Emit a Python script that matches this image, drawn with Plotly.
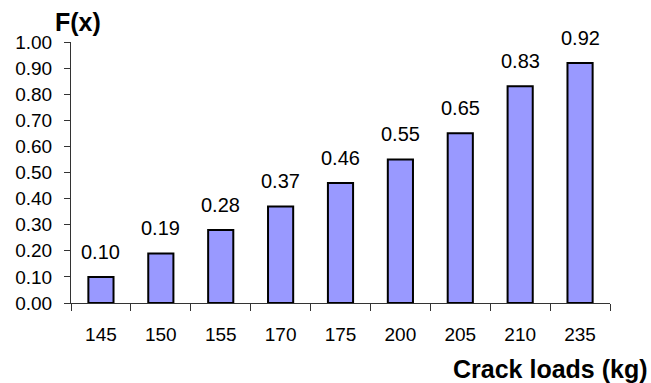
import plotly.graph_objects as go

# Crack load categories and the cumulative distribution F(x)
loads = ["145", "150", "155", "170", "175", "200", "205", "210", "235"]
fx = [0.10, 0.19, 0.28, 0.37, 0.46, 0.55, 0.65, 0.83, 0.92]
y_ticks = [i / 10 for i in range(11)]

FONT = "Liberation Sans, Arial, sans-serif"
TICK_SIZE = 19
LABEL_SIZE = 20
TITLE_SIZE = 25

fig = go.Figure()
fig.add_trace(go.Bar(
    x=loads,
    y=fx,
    marker=dict(color="#9999FF", line=dict(color="black", width=2)),
    width=0.42,
    hoverinfo="x+y",
))

# Value labels above each bar (positioned by category index)
for i, val in enumerate(fx):
    fig.add_annotation(
        x=i, y=val, text=f"{val:.2f}", showarrow=False,
        yanchor="bottom", yshift=12,
        font=dict(family=FONT, size=LABEL_SIZE, color="black"),
    )

fig.add_annotation(
    xref="paper", yref="paper", x=-0.034, y=1.0, text="<b>F(x)</b>",
    showarrow=False, xanchor="left", yanchor="middle", yshift=20,
    font=dict(family=FONT, size=TITLE_SIZE, color="black"),
)
fig.add_annotation(
    xref="paper", yref="paper", x=1.074, y=0, text="<b>Crack loads (kg)</b>",
    showarrow=False, xanchor="right", yanchor="middle", yshift=-66,
    font=dict(family=FONT, size=TITLE_SIZE, color="black"),
)

fig.update_layout(
    width=651, height=383,
    margin=dict(l=71, r=41, t=42, b=80),
    paper_bgcolor="white", plot_bgcolor="white",
    showlegend=False,
    font=dict(family=FONT, size=TICK_SIZE, color="black"),
    bargap=0.58,
)
fig.update_xaxes(
    type="category",
    range=[-0.5, len(loads) - 0.5],
    showline=True, linecolor="#333333", linewidth=1,
    ticks="outside", ticklen=7, tickcolor="#333333",
    tickson="boundaries", ticklabelstandoff=14,
    showgrid=False, zeroline=False,
    tickfont=dict(family=FONT, size=TICK_SIZE, color="black"),
)
fig.update_yaxes(
    range=[0, 1.0],
    tickvals=y_ticks,
    ticktext=[f"{v:.2f}" for v in y_ticks],
    showline=True, linecolor="#333333", linewidth=1,
    ticks="outside", ticklen=6, tickcolor="#333333",
    ticklabelstandoff=8,
    showgrid=False, zeroline=False,
    tickfont=dict(family=FONT, size=TICK_SIZE, color="black"),
)

fig.write_html("out.html")
